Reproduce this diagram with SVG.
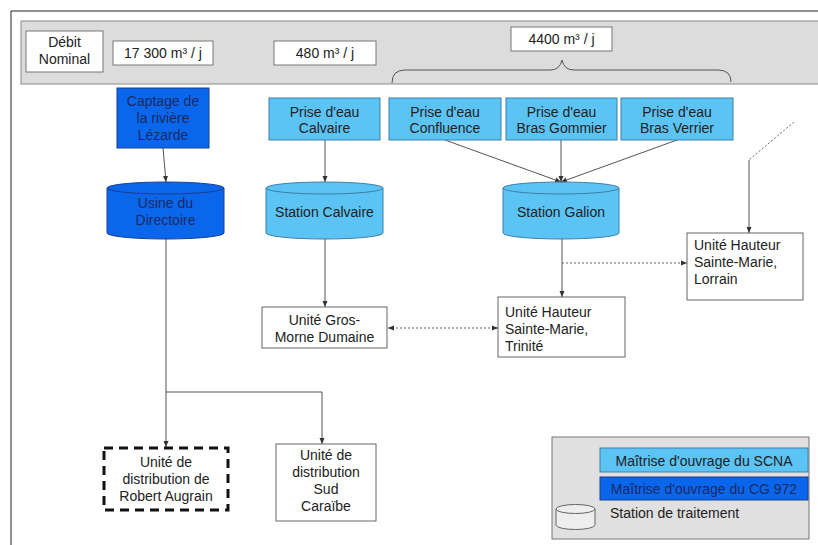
<svg xmlns="http://www.w3.org/2000/svg" width="818" height="545" viewBox="0 0 818 545">
<defs>
<style>
text{font-family:"Liberation Sans",Arial,sans-serif;font-size:14px;fill:#222;}
.c{text-anchor:middle;}
.lb{fill:#5cc3f5;stroke:#3f7fa6;stroke-width:1;}
.db{fill:#0a66ea;stroke:#1b3f8f;stroke-width:1;}
.dt{fill:#1b2a66;}
.wb{fill:#fff;stroke:#666;stroke-width:1;}
.ln{stroke:#555;stroke-width:1;fill:none;}
.dot{stroke:#666;stroke-width:1;fill:none;stroke-dasharray:2 2;}
</style>
<marker id="ah" viewBox="0 0 6 6" refX="6" refY="3" markerWidth="6" markerHeight="6" orient="auto"><path d="M0,0.5 L6,3 L0,5.5 Z" fill="#333"/></marker>
<marker id="as" viewBox="0 0 6 6" refX="0" refY="3" markerWidth="6" markerHeight="6" orient="auto"><path d="M6,0.5 L0,3 L6,5.5 Z" fill="#333"/></marker>
</defs>
<rect width="818" height="545" fill="#fff"/>
<path d="M11,545 V11 H818" fill="none" stroke="#222" stroke-width="1"/>
<g id="header">
<rect x="21" y="21" width="800" height="63" fill="#dcdcdc" stroke="#8a8a8a"/>
<rect x="26" y="31" width="77" height="41" fill="#fff" stroke="#777"/>
<text class="c" x="64.5" y="47">Débit</text>
<text class="c" x="64.5" y="64">Nominal</text>
<rect x="113" y="41" width="100" height="24" fill="#fff" stroke="#777"/>
<text class="c" x="163" y="58">17 300 m³ / j</text>
<rect x="274" y="41" width="102" height="24" fill="#fff" stroke="#777"/>
<text class="c" x="325" y="58">480 m³ / j</text>
<rect x="511" y="27" width="101" height="24" fill="#fff" stroke="#777"/>
<text class="c" x="561.5" y="44">4400 m³ / j</text>
<path d="M392,83 Q392,70 405,70 H550 Q560,70 562,60 Q564,70 574,70 H718 Q731,70 731,82" fill="none" stroke="#555" stroke-width="1"/>
</g>
<g id="connectors">
<line class="ln" x1="163" y1="148" x2="166" y2="182" marker-end="url(#ah)"/>
<line class="ln" x1="325" y1="140" x2="325" y2="182" marker-end="url(#ah)"/>
<line class="ln" x1="445" y1="140" x2="561" y2="182" marker-end="url(#ah)"/>
<line class="ln" x1="561" y1="140" x2="561" y2="182" marker-end="url(#ah)"/>
<line class="ln" x1="677" y1="140" x2="561" y2="182" marker-end="url(#ah)"/>
<line class="ln" x1="325" y1="239" x2="325" y2="307" marker-end="url(#ah)"/>
<line class="ln" x1="562" y1="239" x2="562" y2="297" marker-end="url(#ah)"/>
<line class="dot" x1="562" y1="263" x2="687" y2="263" marker-end="url(#ah)"/>
<line class="dot" x1="388" y1="328" x2="498" y2="328" marker-start="url(#as)" marker-end="url(#ah)"/>
<line class="dot" x1="794" y1="122" x2="749" y2="160"/>
<line class="ln" x1="749" y1="160" x2="749" y2="233" marker-end="url(#ah)"/>
<line class="ln" x1="166" y1="239" x2="166" y2="447" marker-end="url(#ah)"/>
<path class="ln" d="M166,392 H322 V444" marker-end="url(#ah)"/>
</g>
<g id="captage">
<rect class="db" x="117" y="88" width="92" height="60"/>
<text class="c dt" x="163" y="106">Captage de</text>
<text class="c dt" x="163" y="123">la rivière</text>
<text class="c dt" x="163" y="140">Lézarde</text>
</g>
<g id="usine">
<path class="db" d="M107,188 V233 A58.5,6 0 0 0 224,233 V188"/>
<ellipse class="db" cx="165.5" cy="188" rx="58.5" ry="6"/>
<text class="c dt" x="165.5" y="208">Usine du</text>
<text class="c dt" x="165.5" y="225">Directoire</text>
</g>
<g id="prise-calvaire">
<rect class="lb" x="269" y="98" width="111" height="42"/>
<text class="c" x="324.5" y="117">Prise d'eau</text>
<text class="c" x="324.5" y="133">Calvaire</text>
</g>
<g id="prise-confluence">
<rect class="lb" x="389" y="98" width="112" height="42"/>
<text class="c" x="445" y="117">Prise d'eau</text>
<text class="c" x="445" y="133">Confluence</text>
</g>
<g id="prise-gommier">
<rect class="lb" x="506" y="98" width="111" height="42"/>
<text class="c" x="561.5" y="117">Prise d'eau</text>
<text class="c" x="561.5" y="133">Bras Gommier</text>
</g>
<g id="prise-verrier">
<rect class="lb" x="621" y="98" width="112" height="42"/>
<text class="c" x="677" y="117">Prise d'eau</text>
<text class="c" x="677" y="133">Bras Verrier</text>
</g>
<g id="station-calvaire">
<path class="lb" d="M266,188 V233 A58.5,6 0 0 0 383,233 V188"/>
<ellipse class="lb" cx="324.5" cy="188" rx="58.5" ry="6"/>
<text class="c" x="324.5" y="217">Station Calvaire</text>
</g>
<g id="station-galion">
<path class="lb" d="M503,188 V233 A58,6 0 0 0 619,233 V188"/>
<ellipse class="lb" cx="561" cy="188" rx="58" ry="6"/>
<text class="c" x="561" y="217">Station Galion</text>
</g>
<g id="lorrain">
<rect class="wb" x="687" y="233" width="116" height="67"/>
<text x="694" y="250">Unité Hauteur</text>
<text x="694" y="267">Sainte-Marie,</text>
<text x="694" y="284">Lorrain</text>
</g>
<g id="trinite">
<rect class="wb" x="498" y="297" width="127" height="60"/>
<text x="505" y="317">Unité Hauteur</text>
<text x="505" y="334">Sainte-Marie,</text>
<text x="505" y="351">Trinité</text>
</g>
<g id="gros-morne">
<rect class="wb" x="262" y="307" width="125" height="41"/>
<text class="c" x="324.5" y="325">Unité Gros-</text>
<text class="c" x="324.5" y="342">Morne Dumaine</text>
</g>
<g id="robert-augrain">
<rect x="104" y="448" width="124" height="62" fill="#fff" stroke="#111" stroke-width="3" stroke-dasharray="9 6"/>
<text class="c" x="166" y="467">Unité de</text>
<text class="c" x="166" y="484">distribution de</text>
<text class="c" x="166" y="501">Robert Augrain</text>
</g>
<g id="sud-caraibe">
<rect class="wb" x="276" y="444" width="100" height="77"/>
<text class="c" x="326" y="460">Unité de</text>
<text class="c" x="326" y="477">distribution</text>
<text class="c" x="326" y="494">Sud</text>
<text class="c" x="326" y="511">Caraïbe</text>
</g>
<g id="legend">
<rect x="552" y="437" width="257" height="102" fill="#e0e0e0" stroke="#777"/>
<rect class="lb" x="600" y="448" width="208" height="24"/>
<text class="c" x="704" y="466">Maîtrise d'ouvrage du SCNA</text>
<rect class="db" x="600" y="477" width="208" height="23"/>
<text class="c dt" x="704" y="494">Maîtrise d'ouvrage du CG 972</text>
<path d="M556,509 V525 A19.5,4.5 0 0 0 595,525 V509" fill="#eee" stroke="#666"/>
<ellipse cx="575.5" cy="509" rx="19.5" ry="4.5" fill="#eee" stroke="#666"/>
<text x="610" y="518">Station de traitement</text>
</g>
</svg>
